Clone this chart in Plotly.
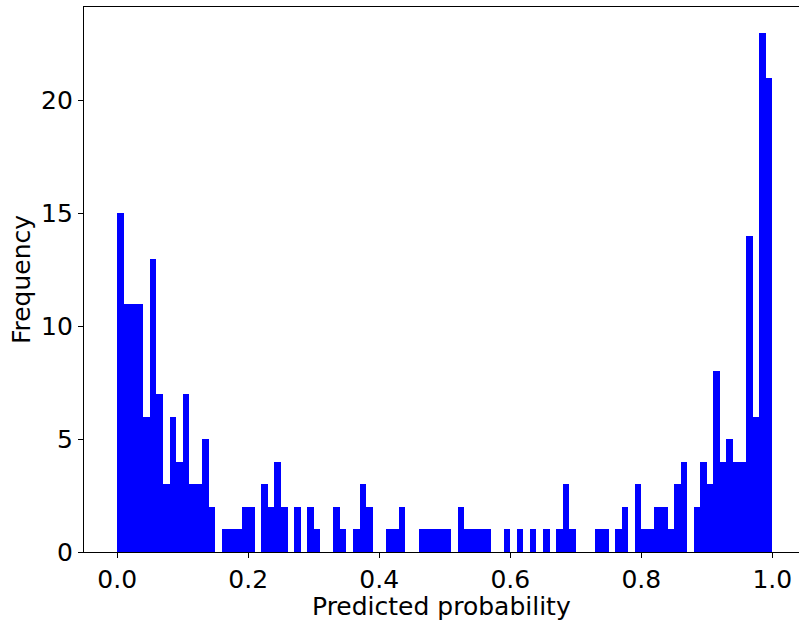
import plotly.graph_objects as go

# Histogram of predicted probabilities: 100 bins over [0, 1]
bin_start = 0.0
bin_width = 0.01
counts = [15, 11, 11, 11, 6, 13, 7, 3, 6, 4,
          7, 3, 3, 5, 2, 0, 1, 1, 1, 2,
          2, 0, 3, 2, 4, 2, 0, 2, 0, 2,
          1, 0, 0, 2, 1, 0, 1, 3, 2, 0,
          0, 1, 1, 2, 0, 0, 1, 1, 1, 1,
          1, 0, 2, 1, 1, 1, 1, 0, 0, 1,
          0, 1, 0, 1, 0, 1, 0, 1, 3, 1,
          0, 0, 0, 1, 1, 0, 1, 2, 0, 3,
          1, 1, 2, 2, 1, 3, 4, 0, 2, 4,
          3, 8, 4, 5, 4, 4, 14, 6, 23, 21]

x_ticks = [0.0, 0.2, 0.4, 0.6, 0.8, 1.0]
x_ticktext = ["0.0", "0.2", "0.4", "0.6", "0.8", "1.0"]
y_ticks = [0, 5, 10, 15, 20]
x_title = "Predicted probability"
y_title = "Frequency"

centers = [bin_start + bin_width * (i + 0.5) for i in range(len(counts))]

fig = go.Figure(go.Bar(
    x=centers, y=counts, width=[bin_width] * len(counts),
    marker=dict(color="#0000ff", line=dict(width=0)),
    hoverinfo="x+y",
))

font = dict(family="DejaVu Sans", size=25, color="black")

fig.update_layout(
    width=799, height=624,
    margin=dict(l=84, r=0, t=7, b=72, autoexpand=False),
    paper_bgcolor="white", plot_bgcolor="white",
    bargap=0, showlegend=False,
    font=font,
    annotations=[dict(
        text=x_title, xref="paper", yref="paper", x=0.5, y=0,
        xanchor="center", yanchor="top", yshift=-38, showarrow=False,
        font=font,
    )],
)
fig.update_xaxes(
    range=[-0.0506, 1.0407],
    tickvals=x_ticks, ticktext=x_ticktext,
    showgrid=False, zeroline=False,
    showline=True, linecolor="black", linewidth=1.3, mirror=True,
    ticks="outside", ticklen=5, tickwidth=1.3, tickcolor="black",
    tickfont=font, automargin=False,
)
fig.update_yaxes(
    range=[0, 24.15],
    tickvals=y_ticks,
    showgrid=False, zeroline=False,
    showline=True, linecolor="black", linewidth=1.3,
    ticks="outside", ticklen=5, tickwidth=1.3, tickcolor="black",
    tickfont=font, automargin=False,
    title=dict(text=y_title, font=font, standoff=3),
)

fig.write_html(
    "out.html",
    config={"displayModeBar": False},
    post_script="document.body.style.margin='0';document.body.style.overflow='hidden';",
)
